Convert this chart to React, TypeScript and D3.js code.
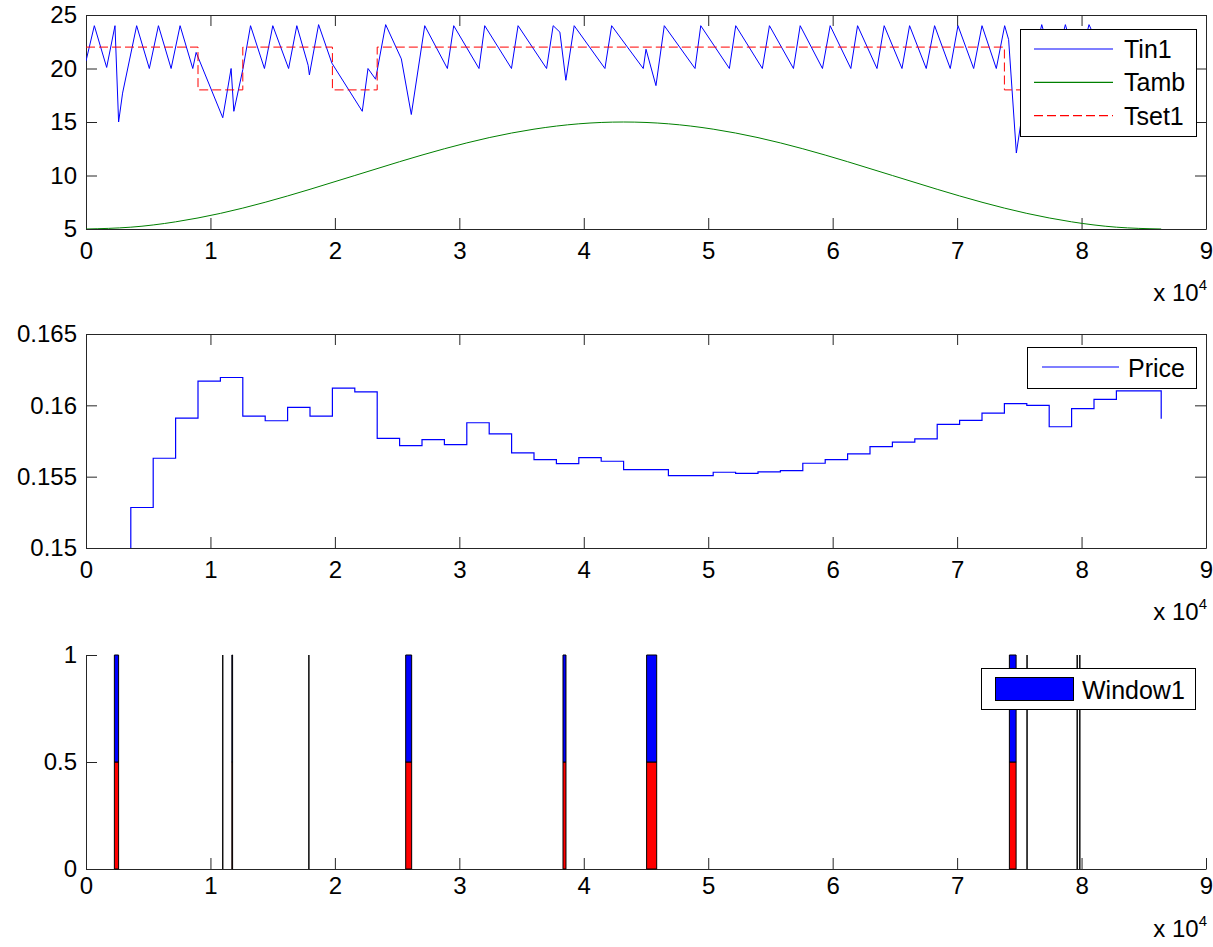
import React, { useEffect, useRef } from 'react';
import * as d3 from 'd3';

// x axis ticks (x 10^4 s)
const xTicks = [0, 1, 2, 3, 4, 5, 6, 7, 8, 9];
const tempTicks = [5, 10, 15, 20, 25];
const priceTicks = [0.15, 0.155, 0.16, 0.165];
const windowTicks = [0, 0.5, 1];

// indoor temperature Tin1 (s, degC)
const tinTimes = [0, 670, 1660, 2330, 2620, 2940, 4070, 5090, 5820, 6840, 7560, 8580, 8850, 10990, 11660, 11880, 12600, 13220, 14340, 15010, 16280, 16940, 17850, 17950, 18690, 19760, 22200, 22660, 23270, 24080, 25340, 26140, 27220, 29040, 29550, 31580, 32040, 34190, 34720, 37010, 37540, 38080, 38560, 39230, 41700, 42240, 44780, 45000, 45800, 46470, 48940, 49400, 51700, 52210, 54350, 54920, 56850, 57390, 59180, 59800, 61460, 62000, 63560, 64140, 65570, 66180, 67520, 68190, 69450, 70070, 71330, 72000, 73150, 73820, 74140, 74760, 75200, 76000, 76800, 77800, 78700, 79700, 80600, 82000, 83200, 84500, 85500, 86400];
const tinValues = [20.7, 24.0, 20.1, 24.0, 15.0, 17.7, 24.0, 20.0, 24.0, 20.0, 24.0, 20.0, 21.5, 15.4, 20.0, 16.0, 19.9, 24.0, 20.0, 24.0, 20.0, 24.0, 20.3, 19.4, 24.1, 20.5, 16.0, 20.0, 19.0, 24.1, 20.9, 15.7, 24.0, 20.0, 24.0, 20.0, 24.0, 20.0, 24.0, 20.0, 24.0, 23.4, 18.9, 24.0, 20.0, 24.0, 20.0, 21.8, 18.4, 24.0, 20.0, 24.0, 20.0, 24.0, 20.0, 24.0, 20.0, 24.0, 20.0, 24.0, 20.0, 24.0, 20.0, 24.0, 20.0, 24.0, 20.0, 24.0, 20.0, 24.0, 20.0, 24.0, 20.0, 24.0, 22.7, 12.1, 15.5, 20.0, 24.1, 20.0, 24.1, 20.0, 24.1, 20.5, 22.8, 20.6, 23.0, 21.4];

// ambient temperature Tamb, hourly
const ambTimes = [0, 3600, 7200, 10800, 14400, 18000, 21600, 25200, 28800, 32400, 36000, 39600, 43200, 46800, 50400, 54000, 57600, 61200, 64800, 68400, 72000, 75600, 79200, 82800, 86400];
const ambValues = [5.0, 5.17, 5.67, 6.46, 7.5, 8.71, 10.0, 11.29, 12.5, 13.54, 14.33, 14.83, 15.0, 14.83, 14.33, 13.54, 12.5, 11.29, 10.0, 8.71, 7.5, 6.46, 5.67, 5.17, 5.0];

// set point Tset1 (steps)
const tsetTimes = [0, 9000, 12600, 19800, 23400, 73800, 77400, 86400];
const tsetValues = [22, 18, 22, 18, 22, 18, 22, 22];

// price, half-hourly steps
const priceTimes = [0, 1800, 3600, 5400, 7200, 9000, 10800, 12600, 14400, 16200, 18000, 19800, 21600, 23400, 25200, 27000, 28800, 30600, 32400, 34200, 36000, 37800, 39600, 41400, 43200, 45000, 46800, 48600, 50400, 52200, 54000, 55800, 57600, 59400, 61200, 63000, 64800, 66600, 68400, 70200, 72000, 73800, 75600, 77400, 79200, 81000, 82800, 84600, 86400];
const priceValues = [0.1485, 0.149, 0.15284, 0.15629, 0.15911, 0.16169, 0.16195, 0.15925, 0.15892, 0.15986, 0.15925, 0.1612, 0.16094, 0.15768, 0.15718, 0.1576, 0.15725, 0.15878, 0.158, 0.15667, 0.1562, 0.15592, 0.15634, 0.15608, 0.15549, 0.15549, 0.15507, 0.15507, 0.15531, 0.15523, 0.15533, 0.15542, 0.15594, 0.1562, 0.1566, 0.15711, 0.15742, 0.15765, 0.15866, 0.15894, 0.15946, 0.16012, 0.16, 0.1585, 0.15977, 0.16042, 0.16101, 0.16101, 0.15906];

// window openings (s) and stacked levels
const windowStart = [2280, 10990, 11720, 17910, 25690, 38330, 45050, 74200, 75620, 79650, 79860];
const windowEnd = [2620, 10990, 11780, 17910, 26170, 38570, 45860, 74740, 75620, 79650, 79860];
const windowLevels = [0.5, 0.5];

const App = () => {
  const svgRef = useRef<SVGSVGElement>(null);

  useEffect(() => {
    if (!svgRef.current) return;
    const svg = d3.select(svgRef.current);
    svg.selectAll('*').remove();

    const left = 86, right = 1206, plotH = 214;
    const tops = [15, 334, 655];
    const font = '"Liberation Sans", Arial, Helvetica, sans-serif';
    const axisColor = '#262626';

    const x = d3.scaleLinear().domain([0, 90000]).range([left, right]);

    const styleAxis = (g: any) => {
      g.attr('font-family', font).attr('font-size', 24);
      g.selectAll('.domain').attr('stroke', axisColor);
      g.selectAll('.tick line').attr('stroke', axisColor);
      g.selectAll('.tick text').attr('fill', '#000');
    };

    const frame = (top: number, y: any, yTicks: number[], box: boolean, labelGap: number, expGap: number, id: string) => {
      const bottom = top + plotH;
      const g = svg.append('g');
      g.append('g').attr('transform', `translate(0,${bottom})`)
        .call(d3.axisBottom(x).tickValues(xTicks.map(d => d * 1e4))
          .tickFormat((d: any) => String(Math.round(+d / 1e4)))
          .tickSizeInner(-11).tickSizeOuter(0).tickPadding(labelGap - 17))
        .call(styleAxis);
      g.append('g').attr('transform', `translate(${left},0)`)
        .call(d3.axisLeft(y).tickValues(yTicks).tickFormat((d: any) => String(d))
          .tickSizeInner(-11).tickSizeOuter(0).tickPadding(9))
        .call(styleAxis);
      if (box) {
        g.append('g').attr('transform', `translate(0,${top})`)
          .call(d3.axisTop(x).tickValues(xTicks.map(d => d * 1e4)).tickFormat(() => '')
            .tickSizeInner(-11).tickSizeOuter(0))
          .call(styleAxis);
        g.append('g').attr('transform', `translate(${right},0)`)
          .call(d3.axisRight(y).tickValues(yTicks).tickFormat(() => '')
            .tickSizeInner(-11).tickSizeOuter(0))
          .call(styleAxis);
      }
      const t = g.append('text')
        .attr('x', right + 1).attr('y', bottom + expGap)
        .attr('text-anchor', 'end').attr('font-family', font).attr('font-size', 24);
      t.append('tspan').text('x 10');
      t.append('tspan').attr('font-size', 15).attr('dy', -11).text('4');

      svg.append('clipPath').attr('id', id)
        .append('rect').attr('x', left).attr('y', top).attr('width', right - left).attr('height', plotH);
    };

    // ---- top: temperatures
    const yT = d3.scaleLinear().domain([5, 25]).range([tops[0] + plotH, tops[0]]);
    frame(tops[0], yT, tempTicks, true, 30, 72, 'clipTop');

    const lineT = d3.line<number>().x((d, i) => x(tinTimes[i])).y(d => yT(d));
    svg.append('path').attr('d', lineT(tinValues))
      .attr('fill', 'none').attr('stroke', '#0000ff').attr('stroke-width', 1)
      .attr('clip-path', 'url(#clipTop)');

    const lineA = d3.line<number>().x((d, i) => x(ambTimes[i])).y(d => yT(d)).curve(d3.curveNatural);
    svg.append('path').attr('d', lineA(ambValues))
      .attr('fill', 'none').attr('stroke', '#008000').attr('stroke-width', 1)
      .attr('clip-path', 'url(#clipTop)');

    const lineS = d3.line<number>().x((d, i) => x(tsetTimes[i])).y(d => yT(d)).curve(d3.curveStepAfter);
    svg.append('path').attr('d', lineS(tsetValues))
      .attr('fill', 'none').attr('stroke', '#ff0000').attr('stroke-width', 1)
      .attr('stroke-dasharray', '9,4')
      .attr('clip-path', 'url(#clipTop)');

    // legend top
    const lg1 = svg.append('g');
    lg1.append('rect').attr('x', 1020.5).attr('y', 29.5).attr('width', 176).attr('height', 107)
      .attr('fill', '#fff').attr('stroke', '#000');
    const items = [
      { name: 'Tin1', color: '#0000ff', dash: null },
      { name: 'Tamb', color: '#008000', dash: null },
      { name: 'Tset1', color: '#ff0000', dash: '9,4' },
    ];
    items.forEach((it, i) => {
      const yy = 49 + i * 33.3;
      lg1.append('line').attr('x1', 1034).attr('x2', 1113).attr('y1', yy).attr('y2', yy)
        .attr('stroke', it.color).attr('stroke-width', 1.2)
        .attr('stroke-dasharray', it.dash ? it.dash : null);
      lg1.append('text').attr('x', 1124).attr('y', yy).attr('dy', '0.36em')
        .attr('font-family', font).attr('font-size', 25).text(it.name);
    });

    // ---- middle: price
    const yP = d3.scaleLinear().domain([0.15, 0.165]).range([tops[1] + plotH, tops[1]]);
    frame(tops[1], yP, priceTicks, true, 30, 72, 'clipMid');

    const lineP = d3.line<number>().x((d, i) => x(priceTimes[i])).y(d => yP(d)).curve(d3.curveStepAfter);
    svg.append('path').attr('d', lineP(priceValues))
      .attr('fill', 'none').attr('stroke', '#0000ff').attr('stroke-width', 1.2)
      .attr('clip-path', 'url(#clipMid)');

    const lg2 = svg.append('g');
    lg2.append('rect').attr('x', 1027.5).attr('y', 347.5).attr('width', 169).attr('height', 41)
      .attr('fill', '#fff').attr('stroke', '#000');
    lg2.append('line').attr('x1', 1042).attr('x2', 1119).attr('y1', 367).attr('y2', 367)
      .attr('stroke', '#0000ff').attr('stroke-width', 1.2);
    lg2.append('text').attr('x', 1128).attr('y', 367.5).attr('dy', '0.36em')
      .attr('font-family', font).attr('font-size', 25).text('Price');

    // ---- bottom: windows
    const yW = d3.scaleLinear().domain([0, 1]).range([tops[2] + plotH, tops[2]]);
    frame(tops[2], yW, windowTicks, false, 25, 68, 'clipBot');

    const levelColors = ['#ff0000', '#0000ff'];
    windowStart.forEach((s, i) => {
      let base = 0;
      windowLevels.forEach((lv, j) => {
        const x0 = x(s), x1 = x(windowEnd[i]);
        const y0 = yW(base), y1 = yW(base + lv);
        svg.append('path')
          .attr('d', `M${x0},${y0}H${x1}V${y1}H${x0}Z`)
          .attr('fill', levelColors[j]).attr('stroke', '#000').attr('stroke-width', 1);
        base += lv;
      });
    });

    const lg3 = svg.append('g');
    lg3.append('rect').attr('x', 981.5).attr('y', 668.5).attr('width', 214).attr('height', 41)
      .attr('fill', '#fff').attr('stroke', '#000');
    lg3.append('rect').attr('x', 995.5).attr('y', 677.5).attr('width', 78).attr('height', 23)
      .attr('fill', '#0000ff').attr('stroke', '#000');
    lg3.append('text').attr('x', 1082).attr('y', 689.5).attr('dy', '0.36em')
      .attr('font-family', font).attr('font-size', 25).text('Window1');
  }, []);

  return (
    <svg ref={svgRef} width={1213} height={947}
      style={{ position: 'absolute', left: 0, top: 0, background: '#fff' }}></svg>
  );
};

export default App;
